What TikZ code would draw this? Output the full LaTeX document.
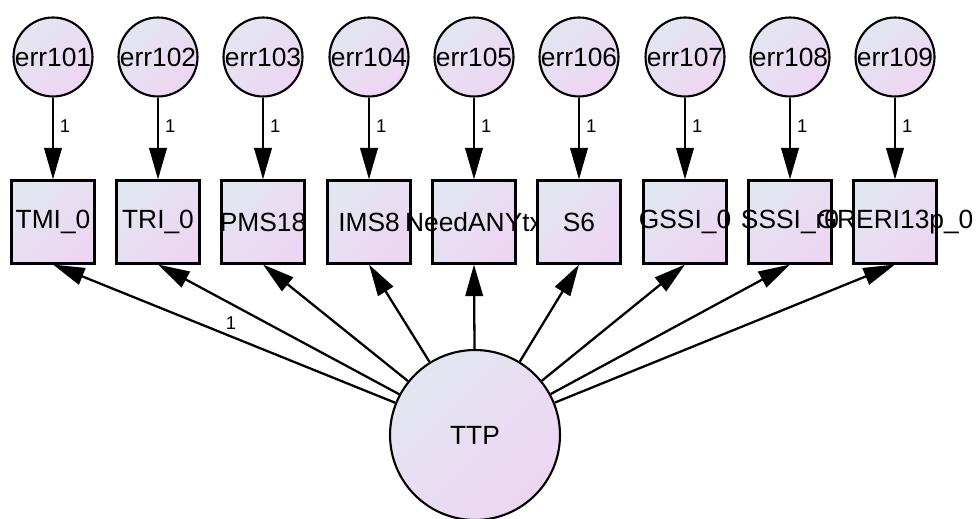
\documentclass[tikz,border=0pt]{standalone}
\usepackage{fontspec}
\setmainfont{Liberation Sans}
\usetikzlibrary{arrows.meta}
\definecolor{shadeblue}{HTML}{E2E6F0}
\definecolor{shadelav}{HTML}{EDD6F3}

\begin{document}
\begin{tikzpicture}[
  x=0.02cm, y=-0.02cm,
  >={Triangle[length=18pt, width=10pt]},
  fillgrad/.style={top color=shadeblue, bottom color=shadelav, shading angle=45},
  obsbox/.style={draw, line width=1.2pt, fillgrad, minimum size=1.66cm, inner sep=0pt},
  errcirc/.style={circle, draw, line width=1.2pt, fillgrad, minimum size=1.58cm, inner sep=0pt},
  latcirc/.style={circle, draw, line width=1.2pt, fillgrad, minimum size=3.4cm, inner sep=0pt},
  link/.style={->, line width=1.3pt},
  nm/.style={font=\fontsize{15}{18}\selectfont},
  wt/.style={font=\fontsize{10.5}{12}\selectfont},
]
\useasboundingbox (0,0) rectangle (976,519);

% ══════════════════════════════════════════════════════
% Observed variables with their error terms
% ══════════════════════════════════════════════════════
\foreach \i/\xx/\nmtxt in {%
  1/53/TMI\_0,%
  2/158/TRI\_0,%
  3/263/PMS18,%
  4/369/IMS8,%
  5/474/NeedANYtx,%
  6/579/S6,%
  7/685/GSSI\_0,%
  8/790/SSSI\_r0,%
  9/895/GRERI13p\_0%
}{
  \node[obsbox, nm] (b\i) at (\xx,222) {\raisebox{-3pt}{\makebox[0pt]{\nmtxt}}};
  \node[errcirc, nm] (e\i) at (\xx,57) {\makebox[0pt]{err10\i}};
  \draw[link] (e\i) -- node[wt, right, pos=0.35] {1} (b\i);
}

% ══════════════════════════════════════════════════════
% Latent factor
% ══════════════════════════════════════════════════════
\node[latcirc, nm] (ttp) at (475,435) {TTP};

\draw[link] (ttp) -- node[wt, above, pos=0.48] {1} (b1.south);
\foreach \i in {2,...,9}{
  \draw[link] (ttp) -- (b\i.south);
}

\end{tikzpicture}
\end{document}
